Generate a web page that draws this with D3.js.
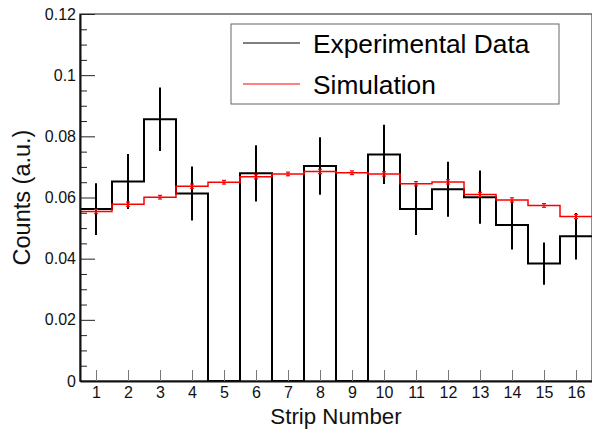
<!DOCTYPE html>
<html>
<head>
<meta charset="utf-8">
<script src="https://cdn.jsdelivr.net/npm/d3@7"></script>
<style>
    body { margin: 0; background: #fff; }
    text { font-family: "Liberation Sans", Arial, sans-serif; }
</style>
</head>
<body>
<div id="chart"></div>
<script>
const strips = [1, 2, 3, 4, 5, 6, 7, 8, 9, 10, 11, 12, 13, 14, 15, 16];
const expValues = [0.0562, 0.0652, 0.0856, 0.0613, 0, 0.0679, 0, 0.0703, 0, 0.0741, 0.0562, 0.0627, 0.0601, 0.0510, 0.0384, 0.0473];
const expErrors = [0.0085, 0.0090, 0.0104, 0.0088, 0, 0.0092, 0, 0.0094, 0, 0.0097, 0.0085, 0.0090, 0.0087, 0.0080, 0.0069, 0.0076];
const simValues = [0.0554, 0.0578, 0.0601, 0.0637, 0.0650, 0.0668, 0.0677, 0.0685, 0.0681, 0.0677, 0.0645, 0.0651, 0.0610, 0.0592, 0.0574, 0.0538];
const simErrors = [0.0007, 0.0007, 0.0006, 0.0007, 0.0006, 0.0007, 0.0006, 0.0007, 0.0006, 0.0007, 0.0007, 0.0007, 0.0007, 0.0007, 0.0006, 0.0007];
const yMajorTicks = [0, 0.02, 0.04, 0.06, 0.08, 0.1, 0.12];
const legendLabels = ["Experimental Data", "Simulation"];

const W = 592, H = 430;
const margin = {top: 14, right: 0, bottom: 49, left: 80},
    width = W - margin.left - margin.right,
    height = H - margin.top - margin.bottom;

const svg = d3.select("#chart").append("svg")
    .attr("width", W)
    .attr("height", H);

const g = svg.append("g")
    .attr("transform", "translate(" + margin.left + "," + margin.top + ")");

const x = d3.scaleLinear().domain([0.5, 16.5]).range([0, width]);
const y = d3.scaleLinear().domain([0, 0.12]).range([height, 0]);

// frame
g.append("rect")
    .attr("x", 0).attr("y", 0)
    .attr("width", width).attr("height", height)
    .attr("fill", "none")
    .attr("stroke", "#666")
    .attr("stroke-width", 1.5);

// histogram step path
function stepPath(values) {
    const p = d3.path();
    values.forEach((v, i) => {
        const x0 = x(strips[i] - 0.5), x1 = x(strips[i] + 0.5);
        if (i === 0) p.moveTo(x0, y(v)); else p.lineTo(x0, y(v));
        p.lineTo(x1, y(v));
    });
    return p.toString();
}

// experimental data
g.append("path")
    .attr("d", stepPath(expValues))
    .attr("fill", "none")
    .attr("stroke", "#000")
    .attr("stroke-width", 2);

g.selectAll(".expErr")
    .data(strips.filter((s, i) => expErrors[i] > 0))
    .enter().append("line")
    .attr("class", "expErr")
    .attr("x1", d => x(d)).attr("x2", d => x(d))
    .attr("y1", d => y(expValues[d - 1] - expErrors[d - 1]))
    .attr("y2", d => y(expValues[d - 1] + expErrors[d - 1]))
    .attr("stroke", "#000")
    .attr("stroke-width", 2);

// simulation
g.append("path")
    .attr("d", stepPath(simValues))
    .attr("fill", "none")
    .attr("stroke", "#ff0000")
    .attr("stroke-width", 1.5);

const simErr = g.selectAll(".simErr")
    .data(strips)
    .enter().append("g")
    .attr("class", "simErr")
    .attr("stroke", "#ff0000")
    .attr("stroke-width", 1.2);

simErr.append("line")
    .attr("x1", d => x(d)).attr("x2", d => x(d))
    .attr("y1", d => y(simValues[d - 1] - simErrors[d - 1]))
    .attr("y2", d => y(simValues[d - 1] + simErrors[d - 1]));
[-1, 1].forEach(sgn => {
    simErr.append("line")
        .attr("x1", d => x(d) - 2).attr("x2", d => x(d) + 2)
        .attr("y1", d => y(simValues[d - 1] + sgn * simErrors[d - 1]))
        .attr("y2", d => y(simValues[d - 1] + sgn * simErrors[d - 1]));
});

// y axis
const yMinor = d3.range(0, 0.1201, 0.005).filter(v => yMajorTicks.every(t => Math.abs(t - v) > 1e-6));

g.append("g")
    .call(d3.axisLeft(y).tickValues(yMinor).tickSize(-7).tickSizeOuter(0).tickFormat(""))
    .call(a => a.select(".domain").remove())
    .selectAll("line").attr("stroke", "#222");

const yAxis = g.append("g")
    .call(d3.axisLeft(y).tickValues(yMajorTicks).tickSize(-15).tickSizeOuter(0).tickPadding(4)
        .tickFormat(d => d3.format("")(+d.toFixed(2))));
yAxis.select(".domain").attr("stroke", "#111").attr("stroke-width", 2);
yAxis.selectAll("line").attr("stroke", "#222");
yAxis.selectAll("text").attr("font-size", 16).attr("fill", "#111")
    .attr("font-family", "Liberation Sans, Arial, sans-serif");

// x axis
const xAxis = g.append("g")
    .attr("transform", "translate(0," + height + ")")
    .call(d3.axisBottom(x).tickValues(strips).tickSize(-11).tickSizeOuter(0).tickPadding(6));
xAxis.select(".domain").attr("stroke", "#111").attr("stroke-width", 2);
xAxis.selectAll("line").attr("stroke", "#777");
xAxis.selectAll("text").attr("font-size", 16).attr("fill", "#111")
    .attr("font-family", "Liberation Sans, Arial, sans-serif");

// titles
g.append("text")
    .attr("x", width / 2).attr("y", height + 43)
    .attr("text-anchor", "middle")
    .attr("font-size", 22.3)
    .attr("fill", "#111")
    .text("Strip Number");

g.append("text")
    .attr("transform", "translate(" + (-50.5) + "," + (height / 2 + 14 - 14) + ") rotate(-90)")
    .attr("text-anchor", "middle")
    .attr("font-size", 23.5)
    .attr("fill", "#111")
    .text("Counts (a.u.)");

// legend
const legend = svg.append("g").attr("transform", "translate(231,24)");
legend.append("rect")
    .attr("width", 328).attr("height", 80)
    .attr("fill", "#fff")
    .attr("stroke", "#666")
    .attr("stroke-width", 1);

const legendColor = d3.scaleOrdinal().domain(legendLabels).range(["#000", "#ff0000"]);
const items = legend.selectAll(".item")
    .data(legendLabels)
    .enter().append("g")
    .attr("class", "item")
    .attr("transform", (d, i) => "translate(0," + (19 + i * 41) + ")");
items.append("line")
    .attr("x1", 12).attr("x2", 69)
    .attr("stroke", d => legendColor(d))
    .attr("stroke-width", 1);
items.append("text")
    .attr("x", 82).attr("y", 10)
    .attr("font-size", 26.3)
    .attr("fill", "#000")
    .text(d => d);
</script>
</body>
</html>
